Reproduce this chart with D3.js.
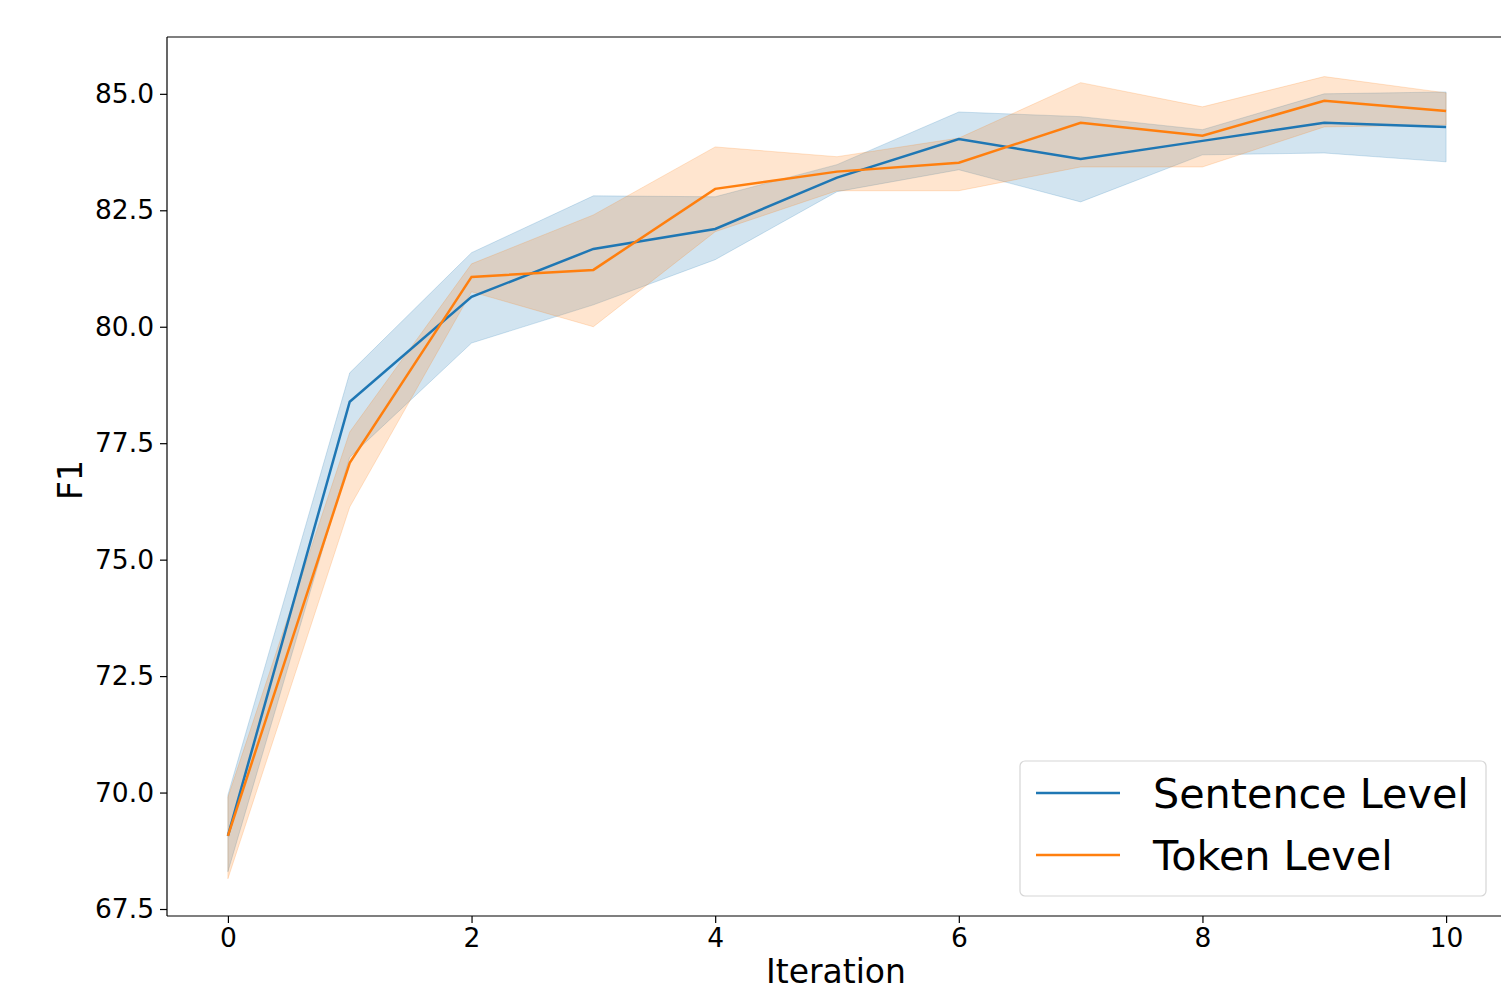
<!DOCTYPE html>
<html>
<head>
<meta charset="utf-8">
<script src="https://cdn.jsdelivr.net/npm/d3@7"></script>
<style>
  body { margin: 0; background: #fff; }
  text { font-family: "DejaVu Sans", sans-serif; }
</style>
</head>
<body>
<div id="root"></div>
<script>
// Data
var iterations = [0, 1, 2, 3, 4, 5, 6, 7, 8, 9, 10];

var sentenceMean  = [69.07, 78.39, 80.64, 81.67, 82.10, 83.20, 84.03, 83.60, 83.99, 84.38, 84.29];
var sentenceLower = [68.30, 77.20, 79.65, 80.47, 81.44, 82.90, 83.37, 82.68, 83.69, 83.73, 83.54];
var sentenceUpper = [69.95, 79.01, 81.59, 82.81, 82.79, 83.48, 84.61, 84.51, 84.23, 85.00, 85.04];

var tokenMean  = [69.07, 77.08, 81.07, 81.22, 82.96, 83.33, 83.52, 84.38, 84.10, 84.85, 84.63];
var tokenLower = [68.15, 76.13, 80.75, 80.00, 82.04, 82.92, 82.92, 83.43, 83.43, 84.29, 84.33];
var tokenUpper = [69.90, 77.74, 81.35, 82.40, 83.86, 83.65, 84.05, 85.24, 84.72, 85.37, 85.02];

var xTicks = [0, 2, 4, 6, 8, 10];
var yTicks = [67.5, 70.0, 72.5, 75.0, 77.5, 80.0, 82.5, 85.0];

var seriesNames = ["Sentence Level", "Token Level"];
var seriesColors = ["#1f77b4", "#ff7f0e"];

// Dimensions
var width = 1501, height = 988;
var plot = {left: 167, top: 37, right: 1507, bottom: 916};

var svg = d3.select("#root")
            .append("svg")
            .attr("width", width)
            .attr("height", height);

var x = d3.scaleLinear()
          .domain([-0.5, 10.5])
          .range([plot.left, plot.right]);

var y = d3.scaleLinear()
          .domain([67.35, 86.22])
          .range([plot.bottom, plot.top]);

// Build series rows
var series = [
  {name: seriesNames[0], color: seriesColors[0], mean: sentenceMean, lo: sentenceLower, hi: sentenceUpper},
  {name: seriesNames[1], color: seriesColors[1], mean: tokenMean, lo: tokenLower, hi: tokenUpper}
];
series.forEach(function (s) {
  s.rows = iterations.map(function (it, i) {
    return {x: it, m: s.mean[i], lo: s.lo[i], hi: s.hi[i]};
  });
});

var area = d3.area()
             .x(function (d) { return x(d.x); })
             .y0(function (d) { return y(d.lo); })
             .y1(function (d) { return y(d.hi); });

var line = d3.line()
             .x(function (d) { return x(d.x); })
             .y(function (d) { return y(d.m); });

// Bands
svg.selectAll(".band")
   .data(series)
   .enter().append("path")
   .attr("class", "band")
   .attr("d", function (d) { return area(d.rows); })
   .attr("fill", function (d) { return d.color; })
   .attr("fill-opacity", 0.2)
   .attr("stroke", function (d) { return d.color; })
   .attr("stroke-opacity", 0.2)
   .attr("stroke-width", 1);

// Lines
svg.selectAll(".line")
   .data(series)
   .enter().append("path")
   .attr("class", "line")
   .attr("d", function (d) { return line(d.rows); })
   .attr("fill", "none")
   .attr("stroke", function (d) { return d.color; })
   .attr("stroke-width", 2.5);

// Axes
var xAxis = svg.append("g")
               .attr("transform", "translate(0," + plot.bottom + ")")
               .call(d3.axisBottom(x).tickValues(xTicks).tickSize(7).tickPadding(5).tickFormat(d3.format("d")));

var yAxis = svg.append("g")
               .attr("transform", "translate(" + plot.left + ",0)")
               .call(d3.axisLeft(y).tickValues(yTicks).tickSize(7).tickPadding(6).tickFormat(d3.format(".1f")));

[xAxis, yAxis].forEach(function (a) {
  a.select(".domain").remove();
  a.selectAll(".tick line").attr("stroke", "#000").attr("stroke-width", 1.2);
  a.selectAll(".tick text")
   .attr("fill", "#000")
   .attr("font-size", 26.5)
   .attr("font-family", "DejaVu Sans, sans-serif");
});

// Spines
svg.append("line").attr("x1", plot.left).attr("x2", plot.left).attr("y1", plot.top).attr("y2", plot.bottom)
   .attr("stroke", "#000").attr("stroke-width", 1.2);
svg.append("line").attr("x1", plot.left).attr("x2", width).attr("y1", plot.bottom).attr("y2", plot.bottom)
   .attr("stroke", "#000").attr("stroke-width", 1.2);
svg.append("line").attr("x1", plot.left).attr("x2", width).attr("y1", plot.top).attr("y2", plot.top)
   .attr("stroke", "#000").attr("stroke-width", 1.2);

// Axis labels
svg.append("text")
   .attr("x", 836)
   .attr("y", 983)
   .attr("text-anchor", "middle")
   .attr("font-size", 33)
   .attr("fill", "#000")
   .text("Iteration");

svg.append("text")
   .attr("transform", "translate(82,480) rotate(-90)")
   .attr("text-anchor", "middle")
   .attr("font-size", 33)
   .attr("fill", "#000")
   .text("F1");

// Legend
var legend = svg.append("g");
legend.append("rect")
      .attr("x", 1020).attr("y", 761)
      .attr("width", 466).attr("height", 135)
      .attr("rx", 5)
      .attr("fill", "#fff")
      .attr("fill-opacity", 0.8)
      .attr("stroke", "#d6d6d6")
      .attr("stroke-width", 1.2);

var items = legend.selectAll(".item")
                  .data(series)
                  .enter().append("g")
                  .attr("transform", function (d, i) { return "translate(0," + (793 + i * 62) + ")"; });

items.append("line")
     .attr("x1", 1036).attr("x2", 1120)
     .attr("stroke", function (d) { return d.color; })
     .attr("stroke-width", 2.5);

items.append("text")
     .attr("x", 1153)
     .attr("y", 15)
     .attr("font-size", 41.3)
     .attr("fill", "#000")
     .text(function (d) { return d.name; });
</script>
</body>
</html>
